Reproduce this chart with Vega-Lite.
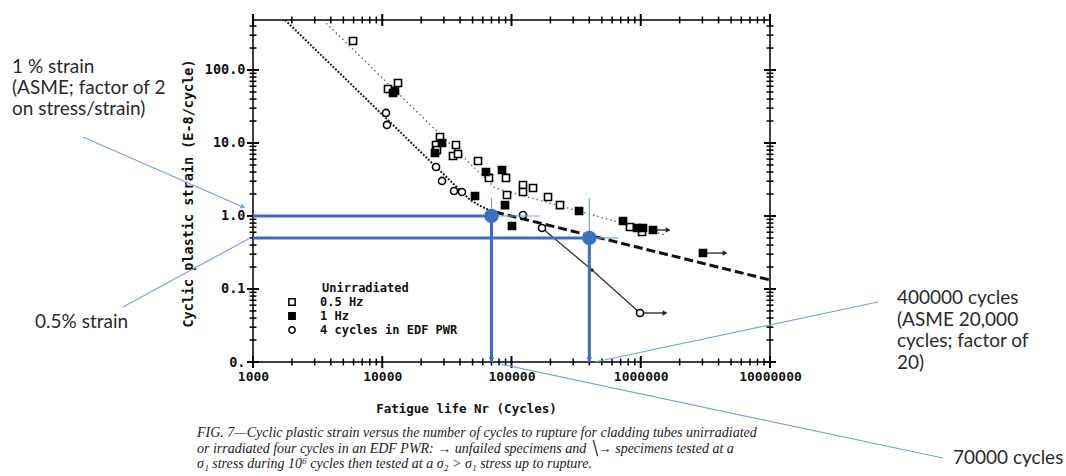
{
  "$schema": "https://vega.github.io/schema/vega-lite/v6.json",
  "width": 517,
  "height": 342,
  "autosize": {"type": "none"},
  "padding": {"left": 253, "top": 20, "right": 296, "bottom": 114},
  "background": "white",
  "config": {"view": {"stroke": "black", "strokeWidth": 1.5}},
  "datasets": {
    "pts": [
      {"n": 5940, "e": 249.6, "s": "0.5 Hz"},
      {"n": 11080, "e": 54.9, "s": "0.5 Hz"},
      {"n": 13240, "e": 66.4, "s": "0.5 Hz"},
      {"n": 27980, "e": 12.08, "s": "0.5 Hz"},
      {"n": 26060, "e": 9.39, "s": "0.5 Hz"},
      {"n": 26530, "e": 8.02, "s": "0.5 Hz"},
      {"n": 37200, "e": 9.39, "s": "0.5 Hz"},
      {"n": 35270, "e": 6.63, "s": "0.5 Hz"},
      {"n": 38560, "e": 7.07, "s": "0.5 Hz"},
      {"n": 55070, "e": 5.67, "s": "0.5 Hz"},
      {"n": 66960, "e": 3.32, "s": "0.5 Hz"},
      {"n": 90660, "e": 3.32, "s": "0.5 Hz"},
      {"n": 92300, "e": 1.94, "s": "0.5 Hz"},
      {"n": 122700, "e": 2.66, "s": "0.5 Hz"},
      {"n": 122700, "e": 2.13, "s": "0.5 Hz"},
      {"n": 146700, "e": 2.42, "s": "0.5 Hz"},
      {"n": 191600, "e": 1.82, "s": "0.5 Hz"},
      {"n": 237300, "e": 1.41, "s": "0.5 Hz"},
      {"n": 825600, "e": 0.706, "s": "0.5 Hz"},
      {"n": 1022600, "e": 0.604, "s": "0.5 Hz"},
      {"n": 12550, "e": 51.6, "s": "1 Hz"},
      {"n": 12110, "e": 48.4, "s": "1 Hz"},
      {"n": 29000, "e": 10.0, "s": "1 Hz"},
      {"n": 25600, "e": 7.3, "s": "1 Hz"},
      {"n": 63500, "e": 4.01, "s": "1 Hz"},
      {"n": 84440, "e": 4.27, "s": "1 Hz"},
      {"n": 52200, "e": 1.88, "s": "1 Hz"},
      {"n": 89060, "e": 1.41, "s": "1 Hz"},
      {"n": 100900, "e": 0.73, "s": "1 Hz"},
      {"n": 332900, "e": 1.17, "s": "1 Hz"},
      {"n": 729000, "e": 0.855, "s": "1 Hz"},
      {"n": 935400, "e": 0.685, "s": "1 Hz"},
      {"n": 1040900, "e": 0.685, "s": "1 Hz"},
      {"n": 1243600, "e": 0.643, "s": "1 Hz"},
      {"n": 3031000, "e": 0.311, "s": "1 Hz"},
      {"n": 10690, "e": 25.8, "s": "4 cycles in EDF PWR"},
      {"n": 10880, "e": 17.7, "s": "4 cycles in EDF PWR"},
      {"n": 26060, "e": 4.69, "s": "4 cycles in EDF PWR"},
      {"n": 29000, "e": 3.02, "s": "4 cycles in EDF PWR"},
      {"n": 35910, "e": 2.2, "s": "4 cycles in EDF PWR"},
      {"n": 41400, "e": 2.13, "s": "4 cycles in EDF PWR"},
      {"n": 122700, "e": 1.03, "s": "4 cycles in EDF PWR"},
      {"n": 172200, "e": 0.685, "s": "4 cycles in EDF PWR"},
      {"n": 986800, "e": 0.0469, "s": "4 cycles in EDF PWR"}
    ],
    "fit05": [
      {"n": 3480, "e": 484},
      {"n": 74540, "e": 2.42},
      {"n": 1540000, "e": 0.55}
    ],
    "fitEDF": [
      {"n": 1769, "e": 484},
      {"n": 47750, "e": 1.66},
      {"n": 59150, "e": 1.33},
      {"n": 74540, "e": 1.134}
    ],
    "dash": [
      {"n": 74540, "e": 1.134},
      {"n": 10000000, "e": 0.133}
    ],
    "solid": [
      {"n": 172200, "e": 0.685},
      {"n": 419700, "e": 0.182},
      {"n": 986800, "e": 0.0469}
    ],
    "arrows": [
      {"n": 1243600, "e": 0.643, "n2": 1626000, "e2": 0.643},
      {"n": 3031000, "e": 0.311, "n2": 4487000, "e2": 0.311},
      {"n": 986800, "e": 0.0469, "n2": 1540000, "e2": 0.0469}
    ],
    "arrowHeads": [
      {"n": 1626000, "e": 0.643},
      {"n": 4487000, "e": 0.311},
      {"n": 1540000, "e": 0.0469}
    ],
    "blueThick": [
      {"n": 1000, "e": 1, "n2": 70000, "e2": 1},
      {"n": 1000, "e": 0.5, "n2": 400000, "e2": 0.5},
      {"n": 70000, "e": 1, "n2": 70000, "e2": 0.01},
      {"n": 400000, "e": 0.5, "n2": 400000, "e2": 0.01}
    ],
    "blueThin": [
      {"n": 70000, "e": 1, "n2": 166000, "e2": 1},
      {"n": 400000, "e": 0.5, "n2": 667000, "e2": 0.5},
      {"n": 70000, "e": 1.77, "n2": 70000, "e2": 1},
      {"n": 400000, "e": 1.77, "n2": 400000, "e2": 0.5},
      {"n": 48.4, "e": 12.1, "n2": 836.8, "e2": 1.33},
      {"n": 98.6, "e": 0.0566, "n2": 950, "e2": 0.5},
      {"n": 442600, "e": 0.01, "n2": 68500000, "e2": 0.0664},
      {"n": 81480, "e": 0.00939, "n2": 217800000, "e2": 0.000484}
    ],
    "blueDots": [
      {"n": 70000, "e": 1},
      {"n": 400000, "e": 0.5}
    ],
    "blueHeads": [
      {"n": 70000, "e": 0.0108},
      {"n": 400000, "e": 0.0108}
    ],
    "noteHead": [
      {"n": 836.8, "e": 1.33}
    ],
    "xM": [
      {"n": 1000, "e": 0.01}, {"n": 10000, "e": 0.01}, {"n": 100000, "e": 0.01}, {"n": 1000000, "e": 0.01}, {"n": 10000000, "e": 0.01},
      {"n": 1000, "e": 484}, {"n": 10000, "e": 484}, {"n": 100000, "e": 484}, {"n": 1000000, "e": 484}, {"n": 10000000, "e": 484}
    ],
    "xm": [
      {"n": 2000, "e": 0.01}, {"n": 3000, "e": 0.01}, {"n": 4000, "e": 0.01}, {"n": 5000, "e": 0.01}, {"n": 6000, "e": 0.01}, {"n": 7000, "e": 0.01}, {"n": 8000, "e": 0.01}, {"n": 9000, "e": 0.01},
      {"n": 20000, "e": 0.01}, {"n": 30000, "e": 0.01}, {"n": 40000, "e": 0.01}, {"n": 50000, "e": 0.01}, {"n": 60000, "e": 0.01}, {"n": 70000, "e": 0.01}, {"n": 80000, "e": 0.01}, {"n": 90000, "e": 0.01},
      {"n": 200000, "e": 0.01}, {"n": 300000, "e": 0.01}, {"n": 400000, "e": 0.01}, {"n": 500000, "e": 0.01}, {"n": 600000, "e": 0.01}, {"n": 700000, "e": 0.01}, {"n": 800000, "e": 0.01}, {"n": 900000, "e": 0.01},
      {"n": 2000000, "e": 0.01}, {"n": 3000000, "e": 0.01}, {"n": 4000000, "e": 0.01}, {"n": 5000000, "e": 0.01}, {"n": 6000000, "e": 0.01}, {"n": 7000000, "e": 0.01}, {"n": 8000000, "e": 0.01}, {"n": 9000000, "e": 0.01},
      {"n": 2000, "e": 484}, {"n": 3000, "e": 484}, {"n": 4000, "e": 484}, {"n": 5000, "e": 484}, {"n": 6000, "e": 484}, {"n": 7000, "e": 484}, {"n": 8000, "e": 484}, {"n": 9000, "e": 484},
      {"n": 20000, "e": 484}, {"n": 30000, "e": 484}, {"n": 40000, "e": 484}, {"n": 50000, "e": 484}, {"n": 60000, "e": 484}, {"n": 70000, "e": 484}, {"n": 80000, "e": 484}, {"n": 90000, "e": 484},
      {"n": 200000, "e": 484}, {"n": 300000, "e": 484}, {"n": 400000, "e": 484}, {"n": 500000, "e": 484}, {"n": 600000, "e": 484}, {"n": 700000, "e": 484}, {"n": 800000, "e": 484}, {"n": 900000, "e": 484},
      {"n": 2000000, "e": 484}, {"n": 3000000, "e": 484}, {"n": 4000000, "e": 484}, {"n": 5000000, "e": 484}, {"n": 6000000, "e": 484}, {"n": 7000000, "e": 484}, {"n": 8000000, "e": 484}, {"n": 9000000, "e": 484}
    ],
    "yM": [
      {"n": 1000, "e": 0.01}, {"n": 1000, "e": 0.1}, {"n": 1000, "e": 1}, {"n": 1000, "e": 10}, {"n": 1000, "e": 100},
      {"n": 10000000, "e": 0.01}, {"n": 10000000, "e": 0.1}, {"n": 10000000, "e": 1}, {"n": 10000000, "e": 10}, {"n": 10000000, "e": 100}
    ],
    "ym": [
      {"n": 1000, "e": 0.02}, {"n": 1000, "e": 0.03}, {"n": 1000, "e": 0.04}, {"n": 1000, "e": 0.05}, {"n": 1000, "e": 0.06}, {"n": 1000, "e": 0.07}, {"n": 1000, "e": 0.08}, {"n": 1000, "e": 0.09},
      {"n": 1000, "e": 0.2}, {"n": 1000, "e": 0.3}, {"n": 1000, "e": 0.4}, {"n": 1000, "e": 0.5}, {"n": 1000, "e": 0.6}, {"n": 1000, "e": 0.7}, {"n": 1000, "e": 0.8}, {"n": 1000, "e": 0.9},
      {"n": 1000, "e": 2}, {"n": 1000, "e": 3}, {"n": 1000, "e": 4}, {"n": 1000, "e": 5}, {"n": 1000, "e": 6}, {"n": 1000, "e": 7}, {"n": 1000, "e": 8}, {"n": 1000, "e": 9},
      {"n": 1000, "e": 20}, {"n": 1000, "e": 30}, {"n": 1000, "e": 40}, {"n": 1000, "e": 50}, {"n": 1000, "e": 60}, {"n": 1000, "e": 70}, {"n": 1000, "e": 80}, {"n": 1000, "e": 90},
      {"n": 1000, "e": 200}, {"n": 1000, "e": 300}, {"n": 1000, "e": 400},
      {"n": 10000000, "e": 0.02}, {"n": 10000000, "e": 0.03}, {"n": 10000000, "e": 0.04}, {"n": 10000000, "e": 0.05}, {"n": 10000000, "e": 0.06}, {"n": 10000000, "e": 0.07}, {"n": 10000000, "e": 0.08}, {"n": 10000000, "e": 0.09},
      {"n": 10000000, "e": 0.2}, {"n": 10000000, "e": 0.3}, {"n": 10000000, "e": 0.4}, {"n": 10000000, "e": 0.5}, {"n": 10000000, "e": 0.6}, {"n": 10000000, "e": 0.7}, {"n": 10000000, "e": 0.8}, {"n": 10000000, "e": 0.9},
      {"n": 10000000, "e": 2}, {"n": 10000000, "e": 3}, {"n": 10000000, "e": 4}, {"n": 10000000, "e": 5}, {"n": 10000000, "e": 6}, {"n": 10000000, "e": 7}, {"n": 10000000, "e": 8}, {"n": 10000000, "e": 9},
      {"n": 10000000, "e": 20}, {"n": 10000000, "e": 30}, {"n": 10000000, "e": 40}, {"n": 10000000, "e": 50}, {"n": 10000000, "e": 60}, {"n": 10000000, "e": 70}, {"n": 10000000, "e": 80}, {"n": 10000000, "e": 90},
      {"n": 10000000, "e": 200}, {"n": 10000000, "e": 300}, {"n": 10000000, "e": 400}
    ],
    "notes": [
      {"n": 13.66, "e": 109.9, "t": "1 % strain"},
      {"n": 13.66, "e": 56.6, "t": "(ASME; factor of 2"},
      {"n": 13.66, "e": 29.2, "t": "on stress/strain)"},
      {"n": 20.6, "e": 0.0353, "t": "0.5% strain"},
      {"n": 96100000, "e": 0.0753, "t": "400000 cycles"},
      {"n": 96100000, "e": 0.0376, "t": "(ASME 20,000"},
      {"n": 96100000, "e": 0.0194, "t": "cycles; factor of"},
      {"n": 96100000, "e": 0.00969, "t": "20)"},
      {"n": 260500000, "e": 0.000484, "t": "70000 cycles"}
    ],
    "caption": [
      {"n": 368.6, "e": 0.000939, "t": "FIG. 7—Cyclic plastic strain versus the number of cycles to rupture for cladding tubes unirradiated"},
      {"n": 368.6, "e": 0.000567, "t": "or irradiated four cycles in an EDF PWR: → unfailed specimens and ╲→ specimens tested at a"},
      {"n": 368.6, "e": 0.000353, "t": "σ₁ stress during 10⁶ cycles then tested at a σ₂ > σ₁ stress up to rupture."}
    ],
    "legendTitle": [
      {"n": 3420, "e": 0.104, "t": "Unirradiated"}
    ]
  },
  "encoding": {
    "x": {"field": "n", "type": "quantitative", "scale": {"type": "log", "domain": [1000, 10000000], "nice": false}, "axis": null},
    "y": {"field": "e", "type": "quantitative", "scale": {"type": "log", "domain": [0.01, 484], "nice": false}, "axis": null}
  },
  "layer": [
    {
      "data": {"name": "fit05"},
      "mark": {"type": "line", "color": "#666666", "strokeWidth": 1.4, "strokeDash": [1.5, 3]},
      "encoding": {
        "x": {"field": "n", "type": "quantitative", "scale": {"type": "log", "domain": [1000, 10000000], "nice": false},
          "axis": {"orient": "bottom", "values": [1000, 10000, 100000, 1000000, 10000000],
            "format": "d", "ticks": false, "domain": false, "grid": false,
            "labelFont": "DejaVu Sans Mono", "labelFontWeight": "bold", "labelFontSize": 13, "labelColor": "#111111",
            "labelPadding": 8, "labelFlush": false, "labelOverlap": false, "labelBound": false,
            "title": "Fatigue life Nr (Cycles)", "titleFont": "DejaVu Sans Mono", "titleFontWeight": "bold", "titleFontSize": 12.5, "titleColor": "#111111",
            "titleX": 213, "titleY": 46, "titleBaseline": "middle", "titleAlign": "center"}},
        "y": {"field": "e", "type": "quantitative", "scale": {"type": "log", "domain": [0.01, 484], "nice": false},
          "axis": {"orient": "left", "values": [0.01, 0.1, 1, 10, 100],
            "labelExpr": "datum.value == 100 ? '100.0' : datum.value == 10 ? '10.0' : datum.value == 1 ? '1.0' : datum.value == 0.1 ? '0.1' : '0.'",
            "ticks": false, "domain": false, "grid": false,
            "labelFont": "DejaVu Sans Mono", "labelFontWeight": "bold", "labelFontSize": 13.5, "labelColor": "#111111",
            "labelPadding": 8, "labelFlush": false, "labelOverlap": false, "labelBound": false,
            "title": "Cyclic plastic strain (E-8/cycle)", "titleFont": "DejaVu Sans Mono", "titleFontWeight": "bold", "titleFontSize": 13.5, "titleColor": "#111111",
            "titleX": -65, "titleY": 173, "titleAngle": 270, "titleBaseline": "middle", "titleAlign": "center"}}
      }
    },
    {
      "data": {"name": "xM"},
      "mark": {"type": "tick", "orient": "vertical", "color": "#000000", "thickness": 2, "size": 12, "opacity": 1},
      "encoding": {}
    },
    {
      "data": {"name": "xm"},
      "mark": {"type": "tick", "orient": "vertical", "color": "#000000", "thickness": 1.5, "size": 7, "opacity": 1},
      "encoding": {}
    },
    {
      "data": {"name": "yM"},
      "mark": {"type": "tick", "orient": "horizontal", "color": "#000000", "thickness": 2, "size": 12, "opacity": 1},
      "encoding": {}
    },
    {
      "data": {"name": "ym"},
      "mark": {"type": "tick", "orient": "horizontal", "color": "#000000", "thickness": 1.5, "size": 7, "opacity": 1},
      "encoding": {}
    },
    {
      "data": {"name": "fitEDF"},
      "mark": {"type": "line", "color": "#222222", "strokeWidth": 2, "strokeDash": [2, 1.5]},
      "encoding": {}
    },
    {
      "data": {"name": "dash"},
      "mark": {"type": "line", "color": "#111111", "strokeWidth": 3, "strokeDash": [9, 4]},
      "encoding": {}
    },
    {
      "data": {"name": "solid"},
      "mark": {"type": "line", "color": "#333333", "strokeWidth": 1.3},
      "encoding": {}
    },
    {
      "data": {"name": "arrows"},
      "mark": {"type": "rule", "color": "#222222", "strokeWidth": 1.3},
      "encoding": {"x2": {"field": "n2"}, "y2": {"field": "e2"}}
    },
    {
      "data": {"name": "arrowHeads"},
      "mark": {"type": "point", "shape": "triangle-right", "filled": true, "color": "#222222", "size": 30, "opacity": 1},
      "encoding": {}
    },
    {
      "data": {"name": "solid"},
      "transform": [{"filter": "datum.n == 419700"}],
      "mark": {"type": "point", "shape": "circle", "filled": true, "color": "#222222", "size": 12, "opacity": 1},
      "encoding": {}
    },
    {
      "data": {"name": "pts"},
      "mark": {"type": "point", "strokeWidth": 1.6, "size": 50, "opacity": 1},
      "encoding": {
        "fill": {"field": "s", "type": "nominal",
          "scale": {"domain": ["0.5 Hz", "1 Hz", "4 cycles in EDF PWR"], "range": ["white", "black", "white"]},
          "legend": {"orient": "none", "legendX": 33, "legendY": 276, "title": null, "labelFont": "DejaVu Sans Mono", "labelFontWeight": "bold", "labelFontSize": 12, "labelColor": "#111111", "labelOffset": 22, "rowPadding": 0, "symbolSize": 40, "symbolStrokeWidth": 1.5, "padding": 0}},
        "stroke": {"field": "s", "type": "nominal",
          "scale": {"domain": ["0.5 Hz", "1 Hz", "4 cycles in EDF PWR"], "range": ["black", "black", "black"]},
          "legend": {"orient": "none", "legendX": 33, "legendY": 276, "title": null, "labelFont": "DejaVu Sans Mono", "labelFontWeight": "bold", "labelFontSize": 12, "labelColor": "#111111", "labelOffset": 22, "rowPadding": 0, "symbolSize": 40, "symbolStrokeWidth": 1.5, "padding": 0}},
        "shape": {"field": "s", "type": "nominal",
          "scale": {"domain": ["0.5 Hz", "1 Hz", "4 cycles in EDF PWR"], "range": ["square", "square", "circle"]},
          "legend": {"orient": "none", "legendX": 33, "legendY": 276, "title": null, "labelFont": "DejaVu Sans Mono", "labelFontWeight": "bold", "labelFontSize": 12, "labelColor": "#111111", "labelOffset": 22, "rowPadding": 0, "symbolSize": 40, "symbolStrokeWidth": 1.5, "padding": 0}}
      }
    },
    {
      "data": {"name": "legendTitle"},
      "mark": {"type": "text", "font": "DejaVu Sans Mono", "fontWeight": "bold", "fontSize": 12, "color": "#111111", "align": "left", "baseline": "middle"},
      "encoding": {"text": {"field": "t"}}
    },
    {
      "data": {"name": "blueThin"},
      "mark": {"type": "rule", "color": "#7aa3e0", "strokeWidth": 1.2},
      "encoding": {"x2": {"field": "n2"}, "y2": {"field": "e2"}}
    },
    {
      "data": {"name": "blueThick"},
      "mark": {"type": "rule", "color": "#3a6fc4", "strokeWidth": 3},
      "encoding": {"x2": {"field": "n2"}, "y2": {"field": "e2"}}
    },
    {
      "data": {"name": "blueDots"},
      "mark": {"type": "point", "shape": "circle", "filled": true, "color": "#3a6fc4", "size": 210, "opacity": 1},
      "encoding": {}
    },
    {
      "data": {"name": "blueHeads"},
      "mark": {"type": "point", "shape": "triangle-down", "filled": true, "color": "#3a6fc4", "size": 30, "opacity": 1},
      "encoding": {}
    },
    {
      "data": {"name": "noteHead"},
      "mark": {"type": "point", "shape": "triangle-right", "filled": true, "color": "#7aa3e0", "size": 30, "opacity": 1, "angle": 24},
      "encoding": {}
    },
    {
      "data": {"name": "notes"},
      "mark": {"type": "text", "font": "Lato", "fontSize": 19, "color": "#2a2a2a", "align": "left", "baseline": "middle"},
      "encoding": {"text": {"field": "t"}}
    },
    {
      "data": {"name": "caption"},
      "mark": {"type": "text", "font": "Liberation Serif", "fontStyle": "italic", "fontSize": 14, "color": "#222222", "align": "left", "baseline": "alphabetic"},
      "encoding": {"text": {"field": "t"}}
    }
  ],
  "resolve": {"axis": {"x": "independent", "y": "independent"}}
}
